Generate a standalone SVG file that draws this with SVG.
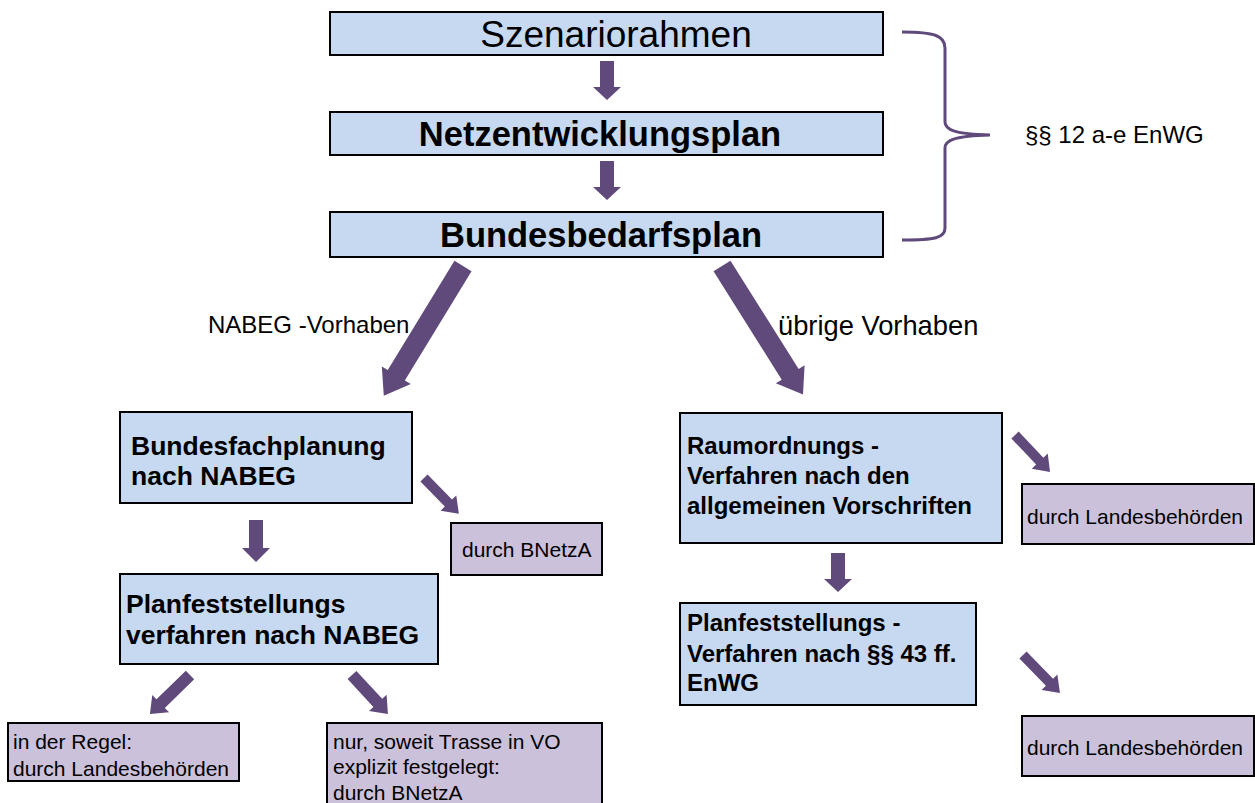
<svg xmlns="http://www.w3.org/2000/svg" width="1255" height="803" viewBox="0 0 1255 803">
<style>
.blue{fill:#c6d9f1;stroke:#000;stroke-width:2}
.lil{fill:#ccc1da;stroke:#000;stroke-width:2}
.arr{fill:#604a7b}
text{font-family:"Liberation Sans",Arial,sans-serif;fill:#000}
.t1{font-size:37px}
.tb{font-size:34.5px;font-weight:bold}
.tm{font-size:26.5px;font-weight:bold}
.tr{font-size:24px;font-weight:bold}
.ts{font-size:21px}
.tl{font-size:24px}
.tx{font-size:27.3px}
</style>
<rect width="1255" height="803" fill="#fff"/>
<g id="connectors">
<path class="arr" d="M600,61 H614 V87 H621 L607,100 L593,87 H600 Z"/>
<path class="arr" d="M600,161 H614 V187 H621 L607,200 L593,187 H600 Z"/>
<path class="arr" transform="translate(463,266) rotate(121.4)" d="M0,-10 H128 V-17 L152,0 L128,17 V10 H0 Z"/>
<path class="arr" transform="translate(722,266) rotate(57.8)" d="M0,-10 H128 V-17 L152,0 L128,17 V10 H0 Z"/>
<path class="arr" d="M249,520 H263 V548 H270 L256,562 L242,548 H249 Z"/>
<path class="arr" d="M831,553 H845 V579 H852 L838,592 L824,579 H831 Z"/>
<path class="arr" transform="translate(424,478) rotate(45.8)" d="M0,-5 H35 V-11 L50,0 L35,11 V5 H0 Z"/>
<path class="arr" transform="translate(1015,435) rotate(46.6)" d="M0,-5 H36 V-11 L51,0 L36,11 V5 H0 Z"/>
<path class="arr" transform="translate(1023,655) rotate(45.8)" d="M0,-5 H38 V-11 L53,0 L38,11 V5 H0 Z"/>
<path class="arr" transform="translate(190,675) rotate(135.7)" d="M0,-6 H41 V-12 L56,0 L41,12 V6 H0 Z"/>
<path class="arr" transform="translate(352,675) rotate(47.3)" d="M0,-6 H38 V-12 L53,0 L38,12 V6 H0 Z"/>
<path d="M902,32 C935,32 945,36 945,48 L945,122 C945,130 955,134 990,135 C955,136 945,140 945,148 L945,228 C945,238 935,240 902,240" fill="none" stroke="#604a7b" stroke-width="3"/>
</g>
<g id="n1"><rect class="blue" x="330" y="12" width="553" height="43"/><text class="t1" x="616" y="47" text-anchor="middle">Szenariorahmen</text></g>
<g id="n2"><rect class="blue" x="330" y="112" width="553" height="43"/><text class="tb" x="600" y="146" text-anchor="middle">Netzentwicklungsplan</text></g>
<g id="n3"><rect class="blue" x="330" y="212" width="553" height="45"/><text class="tb" x="601" y="247" text-anchor="middle">Bundesbedarfsplan</text></g>
<g id="lbl1"><text class="tl" x="1025" y="143">§§ 12 a-e EnWG</text></g>
<g id="lbl2"><text class="tl" x="208" y="333">NABEG -Vorhaben</text></g>
<g id="lbl3"><text class="tx" x="778" y="335">übrige Vorhaben</text></g>
<g id="n4"><rect class="blue" x="120" y="412" width="292" height="91"/><text class="tm" x="131" y="455">Bundesfachplanung</text><text class="tm" x="131" y="485">nach NABEG</text></g>
<g id="n5"><rect class="lil" x="451" y="523" width="151" height="52"/><text class="ts" x="462" y="557">durch BNetzA</text></g>
<g id="n6"><rect class="blue" x="120" y="574" width="318" height="90"/><text class="tm" x="126" y="613">Planfeststellungs</text><text class="tm" x="126" y="644">verfahren nach NABEG</text></g>
<g id="n7"><rect class="lil" x="8" y="723" width="231" height="58"/><text class="ts" x="13" y="749">in der Regel:</text><text class="ts" x="13" y="776">durch Landesbehörden</text></g>
<g id="n8"><rect class="lil" x="327" y="723" width="275" height="90"/><text class="ts" x="333" y="749">nur, soweit Trasse in VO</text><text class="ts" x="333" y="774">explizit festgelegt:</text><text class="ts" x="333" y="800">durch BNetzA</text></g>
<g id="n9"><rect class="blue" x="680" y="413" width="322" height="130"/><text class="tr" x="687" y="454">Raumordnungs -</text><text class="tr" x="687" y="484">Verfahren nach den</text><text class="tr" x="687" y="514">allgemeinen Vorschriften</text></g>
<g id="n10"><rect class="lil" x="1022" y="484" width="232" height="60"/><text class="ts" x="1027" y="524">durch Landesbehörden</text></g>
<g id="n11"><rect class="blue" x="680" y="603" width="296" height="102"/><text class="tr" x="687" y="631">Planfeststellungs -</text><text class="tr" x="687" y="662">Verfahren nach §§  43 ff.</text><text class="tr" x="687" y="691">EnWG</text></g>
<g id="n12"><rect class="lil" x="1022" y="716" width="232" height="60"/><text class="ts" x="1027" y="755">durch Landesbehörden</text></g>
</svg>
